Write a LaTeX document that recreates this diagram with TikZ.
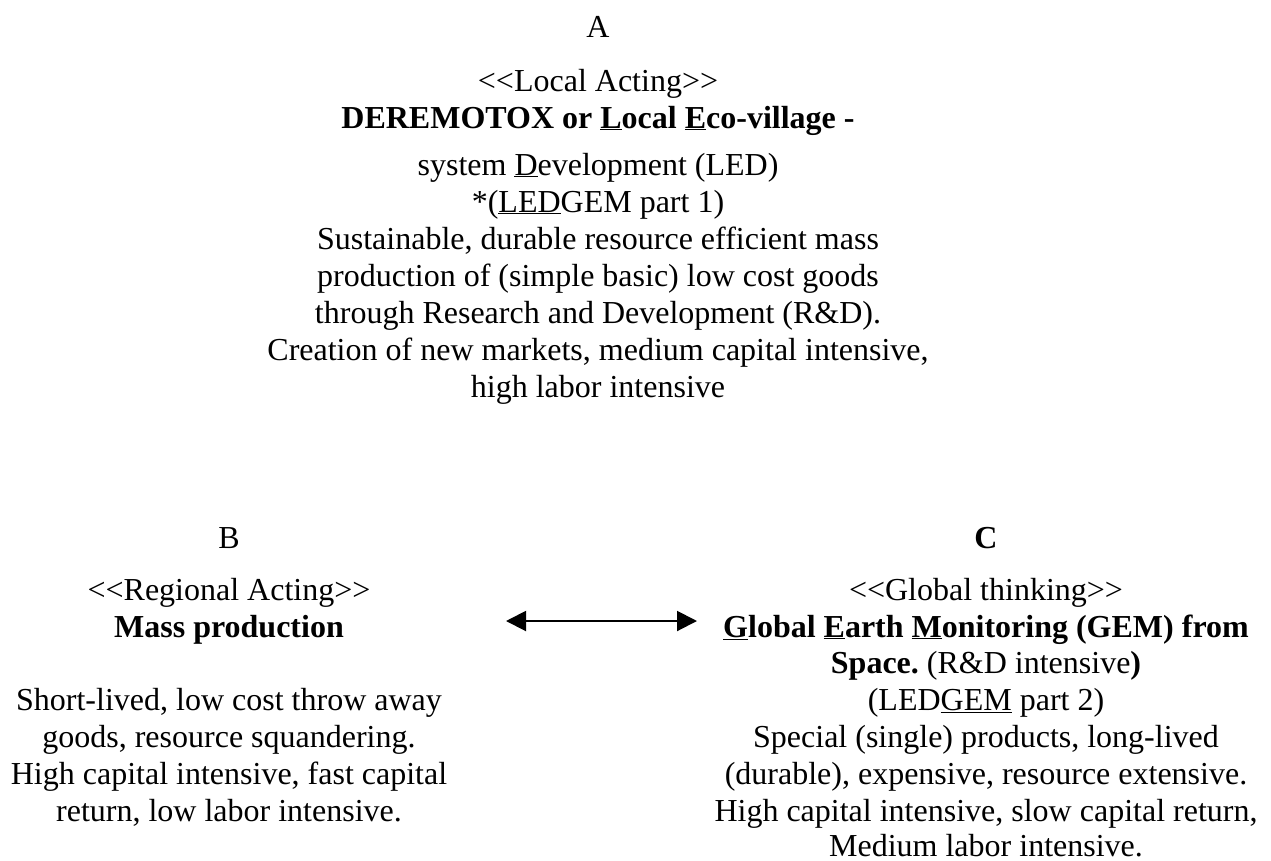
\documentclass[tikz,border=0pt]{standalone}
\usepackage{fontspec}
\setmainfont{Liberation Serif}
\usetikzlibrary{arrows.meta}
\newcommand{\stereo}[1]{<\kern0pt<#1>\kern0pt>}

\begin{document}
\begin{tikzpicture}[
    x=1pt, y=-1pt,
    line/.style={font=\fontsize{32}{37}\selectfont, inner sep=0pt, anchor=base},
    >={Triangle[length=20pt, width=20pt]}
]
    \useasboundingbox (0,0) rectangle (1271,860);

    % A: local
    \node[line] (A) at (598,37) {A};
    \node[line] (aS) at (598,91) {\stereo{Local Acting}};
    \node[line] (aT) at (598,128) {\textbf{DEREMOTOX or \underline{L}ocal \underline{E}co-village -}};
    \node[line] (a1) at (598,175) {system \underline{D}evelopment (LED)};
    \node[line] (a2) at (598,212) {*(\underline{LED}GEM part 1)};
    \node[line] (a3) at (598,249) {Sustainable, durable resource efficient mass};
    \node[line] (a4) at (598,286) {production of (simple basic) low cost goods};
    \node[line] (a5) at (598,323) {through Research and Development (R\&D).};
    \node[line] (a6) at (598,360) {Creation of new markets, medium capital intensive,};
    \node[line] (a7) at (598,397) {high labor intensive};

    % B: regional
    \node[line] (B) at (229,548) {B};
    \node[line] (bS) at (229,600) {\stereo{Regional Acting}};
    \node[line] (bT) at (229,637) {\textbf{Mass production}};
    \node[line] (b1) at (229,710) {Short-lived, low cost throw away};
    \node[line] (b2) at (229,747) {goods, resource squandering.};
    \node[line] (b3) at (229,784) {High capital intensive, fast capital};
    \node[line] (b4) at (229,821) {return, low labor intensive.};

    % C: global
    \node[line] (C) at (986,548) {\textbf{C}};
    \node[line] (cS) at (986,600) {\stereo{Global thinking}};
    \node[line] (cT) at (986,637) {\textbf{\underline{G}lobal \underline{E}arth \underline{M}onitoring (GEM) from}};
    \node[line] (c1) at (986,673) {\textbf{Space.}\ (R\&D intensive\textbf{)}};
    \node[line] (c2) at (986,710) {(LED\underline{GEM} part 2)};
    \node[line] (c3) at (986,747) {Special (single) products, long-lived};
    \node[line] (c4) at (986,784) {(durable), expensive, resource extensive.};
    \node[line] (c5) at (986,821) {High capital intensive, slow capital return,};
    \node[line] (c6) at (986,856) {Medium labor intensive.};

    \coordinate (bEnd) at (506,621);
    \coordinate (cEnd) at (697,621);
    \draw[<->, line width=2pt] (bEnd) -- (cEnd);
\end{tikzpicture}
\end{document}
